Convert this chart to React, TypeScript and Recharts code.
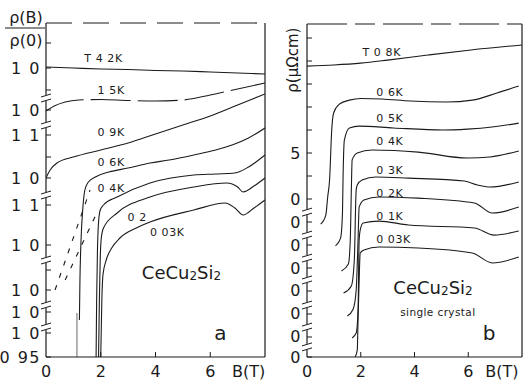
import React from "react";
import { LineChart, Line, XAxis, YAxis, ReferenceDot } from "recharts";

const FONT = "'DejaVu Sans', Verdana, sans-serif";
const INK = "#1b1b1b";

// ---- panel a : rho(B)/rho(0), curves stacked (y in plot offset units) ----
const a42B = [0, 1, 2, 3, 4, 5, 6, 7, 8];
const a42Y = [29.0, 28.9, 28.8, 28.75, 28.65, 28.6, 28.5, 28.4, 28.3];
const a15B = [0, 0.3, 0.7, 1.2, 2, 3, 4, 5, 6, 7, 8];
const a15Y = [24.6, 25.1, 25.5, 25.7, 25.75, 25.65, 25.6, 25.7, 26.2, 26.8, 27.4];
const a09B = [0, 0.15, 0.4, 1, 2, 3, 4, 5, 6, 7, 8];
const a09Y = [17.9, 18.7, 19.4, 20.0, 20.7, 21.4, 22.3, 23.2, 24.1, 25.2, 26.3];
const a06B = [1.22, 1.24, 1.28, 1.34, 1.42, 1.55, 1.8, 2.3, 3, 3.8, 4.5, 5.4, 6.2, 6.8, 7.4, 8];
const a06Y = [3.7, 7.7, 11.7, 14.7, 16.7, 17.5, 18.0, 18.5, 18.9, 19.4, 19.7, 20.2, 20.7, 21.2, 21.9, 22.9];
const a06lowB = [1.13, 1.13];
const a06lowY = [0, 4.4];
const a04B = [1.83, 1.85, 1.88, 1.92, 1.98, 2.1, 2.6, 3.8, 5.4, 6.2, 6.9, 7.4, 8];
const a04Y = [0, 5.7, 10.7, 13.5, 14.7, 15.2, 16.0, 17.4, 18.2, 18.3, 18.4, 19.0, 20.2];
const a02B = [1.92, 1.95, 1.98, 2.02, 2.1, 2.6, 3.8, 5.4, 6.6, 7.0, 7.2, 7.6, 8];
const a02Y = [0, 5.7, 9.7, 11.9, 12.9, 14.4, 16.0, 17.0, 17.4, 17.0, 16.5, 17.1, 17.9];
const a003B = [2.0, 2.04, 2.08, 2.2, 2.4, 2.7, 3.3, 3.8, 5.4, 6.55, 6.9, 7.2, 7.6, 8];
const a003Y = [0, 5.7, 8.2, 9.7, 10.9, 11.9, 12.9, 13.5, 14.7, 15.4, 14.9, 14.2, 14.9, 15.7];
const aDash1B = [0.33, 1.61];
const aDash1Y = [6.7, 16.7];
const aDash2B = [0.7, 1.87];
const aDash2Y = [7.7, 14.5];

const aLeftVals = [28.9, 24.7, 22.2, 17.9, 15.2, 11.2, 6.7, 4.5, 2.4, 0];
const aLeftText = ["1 0", "1 0", "1 1", "1 0", "1 1", "1 0", "1 0", "1 0", "1 0", "0 95"];
const aMinorVals = [31.4, 26.7, 20.0, 8.7];
const aBreakVals = [25.9, 23.2, 16.2, 9.7, 5.2, 3.0];
const aRightVals = [31.4, 26.7, 20.0, 13.2, 11.0, 8.7, 6.5, 4.5, 2.2];

const aLabelText = ["T  4 2K", "1 5K", "0 9K", "0 6K", "0 4K", "0 2", "0 03K"];
const aLabelB = [2.1, 2.38, 2.38, 2.38, 2.38, 3.33, 4.43];
const aLabelY = [29.9, 26.7, 22.5, 19.5, 16.9, 14.0, 12.5];

// ---- panel b : rho in µΩcm, curves offset ----
const b08B = [0, 1, 2, 3, 4.5, 6.1, 8];
const b08Y = [8.78, 8.83, 8.91, 9.04, 9.26, 9.48, 9.7];
const b06B = [0.51, 0.7, 0.77, 0.84, 0.92, 0.99, 1.21, 1.58, 2.01, 2.78, 3.85, 5.2, 6.15, 7.07, 7.88];
const b06Y = [1.91, 2.3, 3.09, 3.83, 6.0, 6.74, 7.13, 7.3, 7.37, 7.35, 7.26, 7.22, 7.3, 7.61, 7.91];
const b05B = [1.06, 1.25, 1.32, 1.34, 1.39, 1.58, 1.94, 3.22, 5.05, 5.97, 6.89, 7.88];
const b05Y = [0.96, 1.3, 2.39, 3.83, 5.56, 6.09, 6.17, 6.09, 6.0, 6.04, 6.13, 6.3];
const b04B = [1.28, 1.54, 1.61, 1.65, 1.68, 1.87, 2.42, 4.14, 5.97, 6.81, 7.88];
const b04Y = [-0.13, 0.17, 1.22, 3.39, 4.7, 5.0, 5.13, 5.04, 4.78, 4.83, 5.09];
const b03B = [1.36, 1.65, 1.76, 1.83, 1.87, 2.05, 2.56, 3.77, 5.86, 6.34, 6.81, 7.88];
const b03Y = [-1.09, -0.78, 0.35, 3.39, 3.61, 3.83, 3.96, 3.91, 3.78, 3.61, 3.52, 3.74];
const b02B = [1.5, 1.72, 1.83, 1.9, 1.94, 2.12, 2.67, 4.14, 6.23, 6.89, 7.88];
const b02Y = [-2.09, -1.78, -0.96, 1.22, 2.65, 2.96, 3.09, 3.04, 2.83, 2.39, 2.65];
const b01B = [1.68, 1.83, 1.9, 1.94, 1.98, 2.09, 2.67, 3.77, 6.23, 6.96, 7.88];
const b01Y = [-3.04, -2.83, -1.83, 1.22, 1.65, 1.96, 2.04, 1.87, 1.74, 1.43, 1.61];
const b003B = [1.79, 1.87, 1.9, 1.94, 1.98, 2.12, 2.67, 4.14, 6.15, 6.89, 7.88];
const b003Y = [-3.87, -3.57, -2.26, -0.52, 0.65, 0.78, 0.91, 0.87, 0.65, 0.22, 0.48];

const bLeftVals = [5, 3, 2, 1, 0, -1, -2, -3, -3.87];
const bLeftText = ["5", "0", "0", "0", "0", "0", "0", "0", "0"];
const bMinorVals = [4, 6, 7, 8, 9, 10];
const bBreakVals = [2.43, 1.43, 0.43, -0.52, -1.61, -2.57, -3.43];
const bRightVals = [-3, -2, -1, 0, 1, 2, 3, 4, 5, 6, 7, 8, 9, 10];

const bLabelText = ["T  0 8K", "0 6K", "0 5K", "0 4K", "0 3K", "0 2K", "0 1K", "0 03K"];
const bLabelB = [2.78, 3.08, 3.08, 3.08, 3.08, 3.08, 3.08, 3.22];
const bLabelY = [9.39, 7.65, 6.52, 5.48, 4.26, 3.26, 2.22, 1.22];

const xTickVals = [0, 2, 4, 6];

type Pt = { b: number; y: number };
const pts = (bs: number[], ys: number[]): Pt[] => bs.map((b, i) => ({ b, y: ys[i] }));

type Series = { key: string; data: Pt[]; dash?: string; linear?: boolean; color?: string };

const seriesA: Series[] = [
  { key: "4.2K", data: pts(a42B, a42Y) },
  { key: "1.5K", data: pts(a15B, a15Y), dash: "40 7" },
  { key: "0.9K", data: pts(a09B, a09Y) },
  { key: "0.6K", data: pts(a06B, a06Y) },
  { key: "0.6Klow", data: pts(a06lowB, a06lowY), linear: true, color: "#777" },
  { key: "0.4K", data: pts(a04B, a04Y) },
  { key: "0.2K", data: pts(a02B, a02Y) },
  { key: "0.03K", data: pts(a003B, a003Y) },
  { key: "d1", data: pts(aDash1B, aDash1Y), dash: "5 8", linear: true },
  { key: "d2", data: pts(aDash2B, aDash2Y), dash: "5 8", linear: true },
];

const seriesB: Series[] = [
  { key: "0.8K", data: pts(b08B, b08Y) },
  { key: "0.6K", data: pts(b06B, b06Y) },
  { key: "0.5K", data: pts(b05B, b05Y) },
  { key: "0.4K", data: pts(b04B, b04Y) },
  { key: "0.3K", data: pts(b03B, b03Y) },
  { key: "0.2K", data: pts(b02B, b02Y) },
  { key: "0.1K", data: pts(b01B, b01Y) },
  { key: "0.03K", data: pts(b003B, b003Y) },
];

const leftTick = (vals: number[], texts: string[], breaks: number[]) => (props: any) => {
  const { x, y, payload } = props;
  const v = payload.value;
  if (breaks.includes(v)) {
    return (
      <g stroke={INK} strokeWidth={1}>
        <rect x={x - 2} y={y - 3} width={4} height={6} fill="#fff" stroke="none" />
        <line x1={x - 5} y1={y - 1} x2={x + 5} y2={y - 4} />
        <line x1={x - 5} y1={y + 4} x2={x + 5} y2={y + 1} />
      </g>
    );
  }
  const i = vals.indexOf(v);
  return (
    <g>
      <line x1={x} y1={y} x2={x + 5} y2={y} stroke={INK} strokeWidth={1} />
      {i >= 0 && (
        <text x={x - 5} y={y} textAnchor="end" dominantBaseline="central" fontSize={16} fill={INK} fontFamily={FONT} letterSpacing={1.5}>
          {texts[i]}
        </text>
      )}
    </g>
  );
};

const rightTick = (props: any) => {
  const { x, y } = props;
  return <line x1={x - 5} y1={y} x2={x} y2={y} stroke={INK} strokeWidth={1} />;
};

const topTick = (props: any) => {
  const { x, y } = props;
  return <line x1={x} y1={y} x2={x} y2={y + 5} stroke={INK} strokeWidth={1} />;
};

const bottomTick = (btPos: number) => (props: any) => {
  const { x, y, payload } = props;
  const v = payload.value;
  if (v === btPos) {
    return (
      <text x={x} y={y + 14} textAnchor="middle" dominantBaseline="central" fontSize={16} fill={INK} fontFamily={FONT}>
        B(T)
      </text>
    );
  }
  return (
    <g>
      {v > 0 && <line x1={x} y1={y} x2={x} y2={y - 5} stroke={INK} strokeWidth={1} />}
      <text x={x} y={y + 14} textAnchor="middle" dominantBaseline="central" fontSize={16} fill={INK} fontFamily={FONT}>
        {v}
      </text>
    </g>
  );
};

const textShape = (t: string, size: number, spacing = 0) => (p: any) => (
  <text x={p.cx} y={p.cy} textAnchor="middle" dominantBaseline="central" fontSize={size} fill={INK} fontFamily={FONT} letterSpacing={spacing}>
    {t}
  </text>
);

const formulaShape = (p: any) => (
  <text x={p.cx} y={p.cy} textAnchor="middle" dominantBaseline="central" fontSize={18} fill={INK} fontFamily={FONT}>
    CeCu
    <tspan fontSize={12} dy={4}>2</tspan>
    <tspan dy={-4}>Si</tspan>
    <tspan fontSize={12} dy={4}>2</tspan>
  </text>
);

const ratioShape = (p: any) => (
  <g fontFamily={FONT} fontSize={16} fill={INK}>
    <text x={p.cx} y={p.cy - 11} textAnchor="middle" dominantBaseline="central">ρ(B)</text>
    <line x1={p.cx - 21} y1={p.cy} x2={p.cx + 19} y2={p.cy} stroke={INK} strokeWidth={1.2} />
    <text x={p.cx} y={p.cy + 12} textAnchor="middle" dominantBaseline="central">ρ(0)</text>
  </g>
);

const rhoShape = (p: any) => (
  <text x={p.cx} y={p.cy} textAnchor="middle" dominantBaseline="central" fontSize={15} fill={INK} fontFamily={FONT} transform={`rotate(-90, ${p.cx}, ${p.cy})`}>
    ρ(μΩcm)
  </text>
);

const renderLines = (list: Series[]) =>
  list.map((s) => (
    <Line
      key={s.key}
      data={s.data}
      dataKey="y"
      type={s.linear ? "linear" : "monotone"}
      stroke={s.color || INK}
      strokeWidth={1.1}
      strokeDasharray={s.dash}
      dot={false}
      activeDot={false}
      isAnimationActive={false}
    />
  ));

const A_BT = 7.4;
const B_BT = 7.25;

export default function App() {
  const axisStroke = { stroke: INK, strokeWidth: 1.2 };
  return (
    <div style={{ position: "absolute", left: 0, top: 0, width: 527, height: 381, background: "#fff", overflow: "hidden" }}>
      <div style={{ position: "absolute", left: 0, top: 0 }}>
        <LineChart width={280} height={381} margin={{ top: 22, right: 14, bottom: 23, left: 45 }}>
          <XAxis dataKey="b" type="number" domain={[0, 8]} ticks={[...xTickVals, A_BT]} interval={0} height={1}
            tickSize={0} tickMargin={0} axisLine={axisStroke} tickLine={false} tick={bottomTick(A_BT)} allowDataOverflow />
          <XAxis xAxisId="top" orientation="top" type="number" domain={[0, 8]} ticks={[2, 4, 6]} interval={0} height={1}
            tickSize={0} tickMargin={0} axisLine={{ ...axisStroke, strokeDasharray: "26 11" }} tickLine={false} tick={topTick} />
          <YAxis type="number" domain={[0, 33.4]} ticks={[...aLeftVals, ...aMinorVals, ...aBreakVals]} interval={0} width={1}
            tickSize={0} tickMargin={0} axisLine={axisStroke} tickLine={false} tick={leftTick(aLeftVals, aLeftText, aBreakVals)} allowDataOverflow />
          <YAxis yAxisId="right" orientation="right" type="number" domain={[0, 33.4]} ticks={aRightVals} interval={0} width={1}
            tickSize={0} tickMargin={0} axisLine={axisStroke} tickLine={false} tick={rightTick} />
          {renderLines(seriesA)}
          {aLabelText.map((t, i) => (
            <ReferenceDot key={t + i} x={aLabelB[i]} y={aLabelY[i]} r={0} ifOverflow="visible" shape={textShape(t, 11, 0.6)} />
          ))}
          <ReferenceDot x={4.95} y={8.5} r={0} ifOverflow="visible" shape={formulaShape} />
          <ReferenceDot x={6.37} y={2.4} r={0} ifOverflow="visible" shape={textShape("a", 20)} />
          <ReferenceDot x={-0.73} y={32.9} r={0} ifOverflow="visible" shape={ratioShape} />
        </LineChart>
      </div>
      <div style={{ position: "absolute", left: 265, top: 0 }}>
        <LineChart width={262} height={381} margin={{ top: 23, right: 4, bottom: 23, left: 41 }}>
          <XAxis dataKey="b" type="number" domain={[0, 8]} ticks={[...xTickVals, B_BT]} interval={0} height={1}
            tickSize={0} tickMargin={0} axisLine={axisStroke} tickLine={false} tick={bottomTick(B_BT)} allowDataOverflow />
          <XAxis xAxisId="top" orientation="top" type="number" domain={[0, 8]} ticks={[2, 4, 6]} interval={0} height={1}
            tickSize={0} tickMargin={0} axisLine={{ ...axisStroke, strokeDasharray: "40 8 20 8" }} tickLine={false} tick={topTick} />
          <YAxis type="number" domain={[-3.87, 10.61]} ticks={[...bLeftVals, ...bMinorVals, ...bBreakVals]} interval={0} width={1}
            tickSize={0} tickMargin={0} axisLine={axisStroke} tickLine={false} tick={leftTick(bLeftVals, bLeftText, bBreakVals)} allowDataOverflow />
          <YAxis yAxisId="right" orientation="right" type="number" domain={[-3.87, 10.61]} ticks={bRightVals} interval={0} width={1}
            tickSize={0} tickMargin={0} axisLine={axisStroke} tickLine={false} tick={rightTick} />
          {renderLines(seriesB)}
          {bLabelText.map((t, i) => (
            <ReferenceDot key={t + i} x={bLabelB[i]} y={bLabelY[i]} r={0} ifOverflow="visible" shape={textShape(t, 11, 0.6)} />
          ))}
          <ReferenceDot x={4.69} y={-0.83} r={0} ifOverflow="visible" shape={formulaShape} />
          <ReferenceDot x={4.87} y={-1.91} r={0} ifOverflow="visible" shape={textShape("single crystal", 10.5, 0.4)} />
          <ReferenceDot x={6.78} y={-2.83} r={0} ifOverflow="visible" shape={textShape("b", 20)} />
          <ReferenceDot x={-0.51} y={9.04} r={0} ifOverflow="visible" shape={rhoShape} />
        </LineChart>
      </div>
    </div>
  );
}
